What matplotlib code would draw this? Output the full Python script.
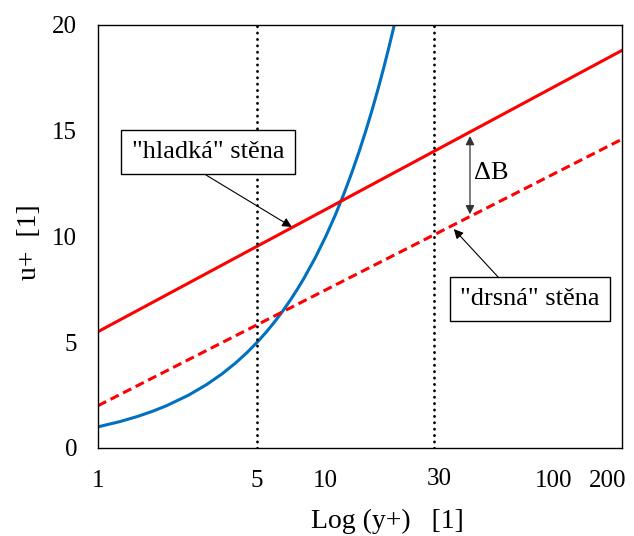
import matplotlib
matplotlib.use("Agg")
import matplotlib.pyplot as plt
from matplotlib.transforms import ScaledTranslation

plt.rcParams['font.family'] = ['Liberation Serif', 'DejaVu Serif']

# Data
smooth_x = [1, 200]
smooth_u = [5.5, 18.8]
rough_x = [1, 200]
rough_u = [2.0, 14.6]
visc_x = [1, 1.25, 1.5, 1.75, 2, 2.5, 3, 3.5, 4, 4.5, 5, 5.5, 6, 6.5, 7, 7.5, 8, 9, 10,
          11, 12, 13, 14, 15, 16, 17, 18, 19, 20]
visc_u = [1, 1.25, 1.5, 1.75, 2, 2.5, 3, 3.5, 4, 4.5, 5, 5.5, 6, 6.5, 7, 7.5, 8, 9, 10,
          11, 12, 13, 14, 15, 16, 17, 18, 19, 20]
vlines_x = [5, 30]
xticks = [1, 5, 10, 30, 100, 200]
xticklabels = ["1", "5", "10", "30", "100", "200"]
yticks = [0, 5, 10, 15, 20]

W, H = 634, 536
fig = plt.figure(figsize=(W / 100, H / 100), dpi=100)
ax = fig.add_axes([98 / W, (H - 448) / H, 524 / W, 423 / H])

def fx(px):
    return px / W

def fy(py):
    return (H - py) / H

ax.plot(visc_x, visc_u, color='#0070C0', lw=2.2, solid_capstyle='butt')
ax.plot(smooth_x, smooth_u, color='#FF0000', lw=2.2)
ax.plot(rough_x, rough_u, color='#FF0000', lw=2.2, ls=(0, (3, 1.6)))
for vx in vlines_x:
    ax.axvline(vx, color='black', lw=2.0, ls=(0, (0.1, 2.2)), dash_capstyle='round')

ax.set_xscale('log')
ax.set_xlim(1, 200)
ax.set_ylim(0, 20)
ax.set_xticks(xticks)
ax.set_xticklabels(xticklabels)
ax.minorticks_off()
ax.set_yticks(yticks)
ax.tick_params(length=0, labelsize=18)
ax.tick_params(axis='y', pad=15)
ax.tick_params(axis='x', pad=16)
for s in ax.spines.values():
    s.set_linewidth(1.0)
    s.set_color('black')

# small label offsets as in the reference
offsets = {"200": (-14, 0), "30": (5, 2)}
for lab in ax.get_xticklabels():
    dx, dy = offsets.get(lab.get_text(), (0, 0))
    if dx or dy:
        lab.set_transform(lab.get_transform() + ScaledTranslation(dx / 100, dy / 100, fig.dpi_scale_trans))

fig.text(fx(387), fy(521), "Log (y+)   [1]", ha='center', va='center', fontsize=20)
fig.text(fx(29), fy(242), "u+  [1]", ha='center', va='center', fontsize=20, rotation=90)

arrow_kw = dict(arrowstyle='-|>', lw=0.8, color='black', mutation_scale=14, shrinkA=0, shrinkB=0)
box_kw = dict(boxstyle='square,pad=0.4', fc='white', ec='black', lw=1.0)

ax.annotate("", xy=(7.1, 10.45), xycoords='data',
            xytext=(fx(206), fy(175)), textcoords='figure fraction', arrowprops=arrow_kw)
fig.text(fx(208), fy(152), '"hladká" stěna', ha='center', va='center', fontsize=19, bbox=box_kw)

ax.annotate("", xy=(36.5, 10.35), xycoords='data',
            xytext=(fx(499), fy(278)), textcoords='figure fraction', arrowprops=arrow_kw)
fig.text(fx(530), fy(299), '"drsná" stěna', ha='center', va='center', fontsize=19, bbox=box_kw)

ax.annotate("", xy=(43, 11.05), xytext=(43, 14.75), xycoords='data',
            arrowprops=dict(arrowstyle='<|-|>', lw=0.9, color='#333333', mutation_scale=13,
                            shrinkA=0, shrinkB=0))
fig.text(fx(491), fy(173), "ΔB", ha='center', va='center', fontsize=19)

fig.savefig("out.png", dpi=100, facecolor='white')
